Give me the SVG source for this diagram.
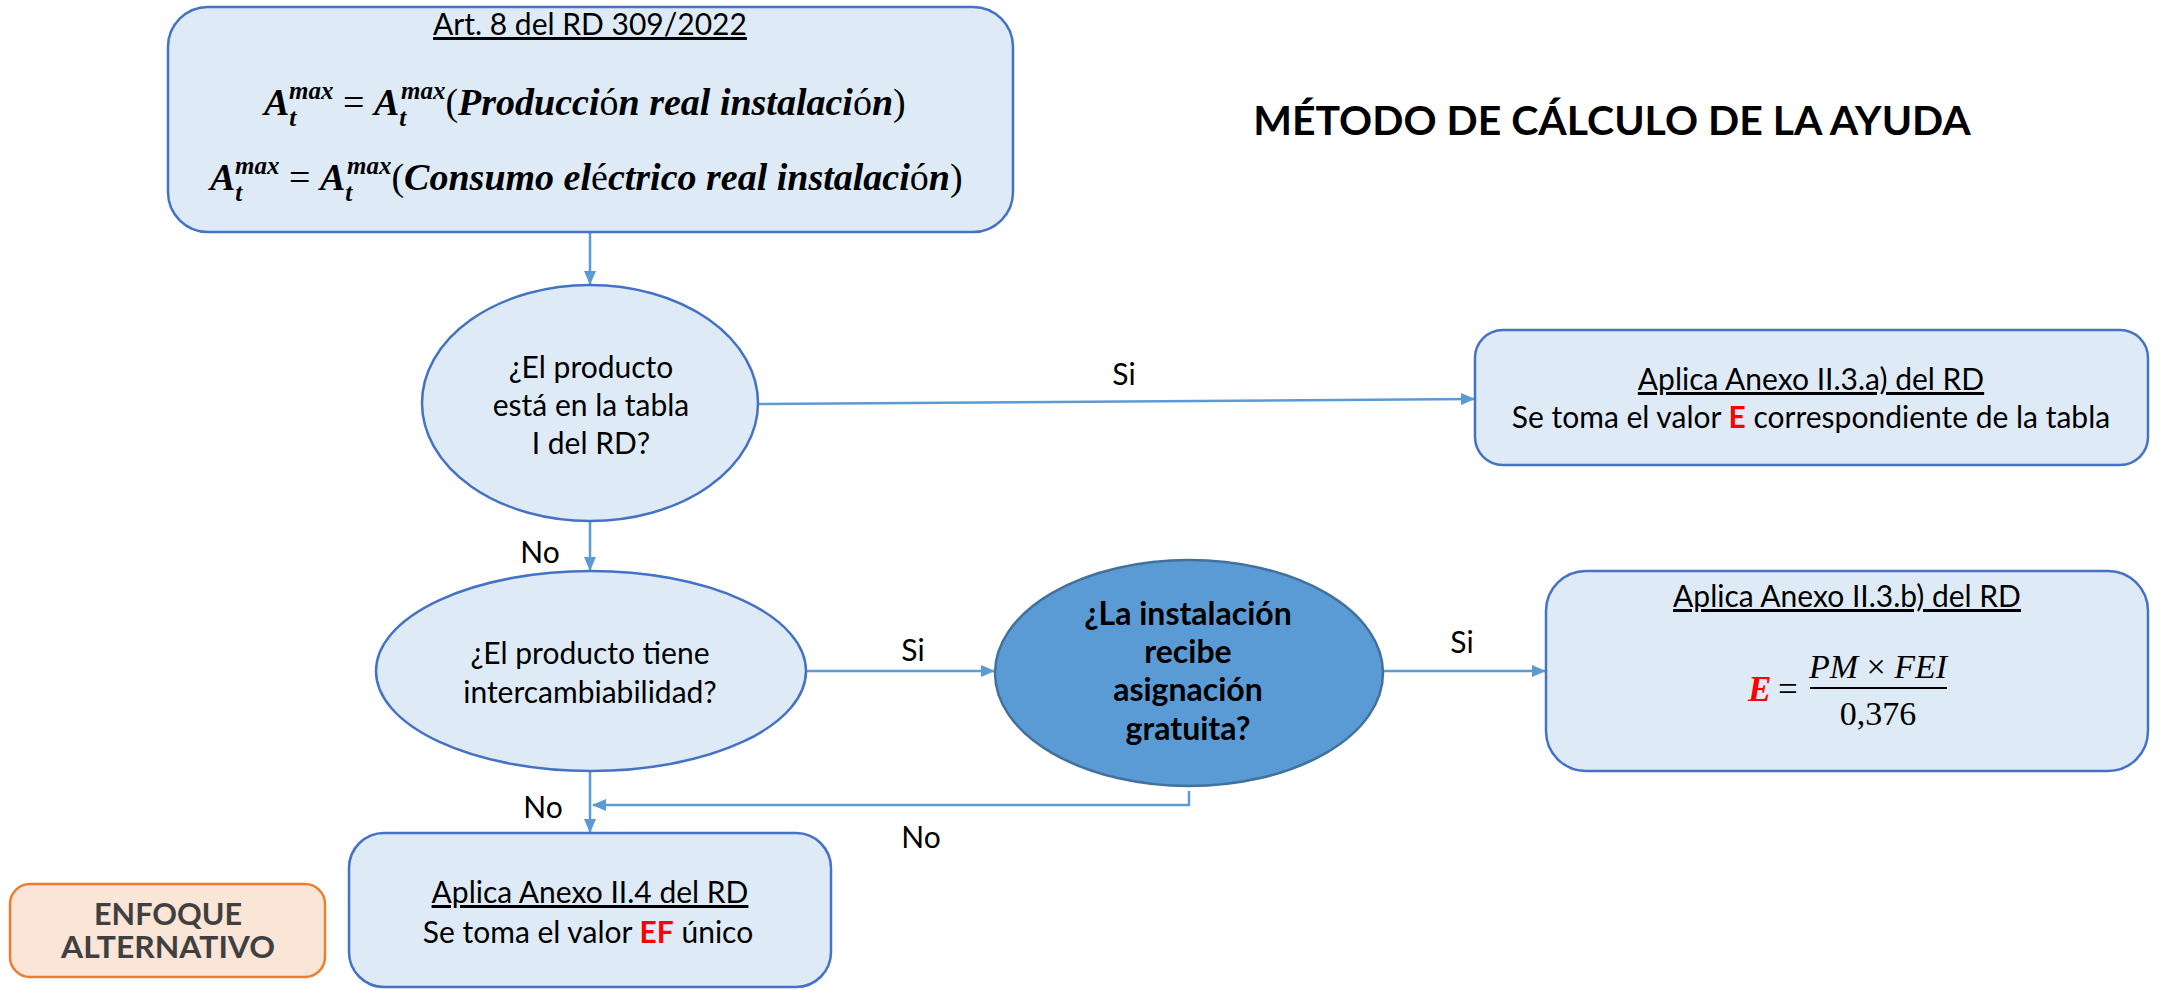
<svg xmlns="http://www.w3.org/2000/svg" width="2162" height="990" viewBox="0 0 2162 990">
<style>
.box{fill:#DEEBF7;stroke:#4472C4;stroke-width:2.5}
.dark{fill:#5B9BD5;stroke:#41719C;stroke-width:2.5}
.orange{fill:#FBE5D6;stroke:#ED7D31;stroke-width:2.5}
.t{font-family:Lato,"Liberation Sans",sans-serif;font-size:30px;fill:#000;text-anchor:middle}
.u{text-decoration:underline}
.b{font-weight:bold}
.q{font-weight:bold;font-size:32px}
.red{fill:#FF0000;font-weight:bold}
.m{font-family:"Liberation Serif",serif;font-size:38px;fill:#000}
.bi{font-weight:bold;font-style:italic}
.r{font-weight:normal;font-style:normal}
.s{font-size:25px}
.alt{font-weight:bold;font-size:30px;fill:#404040}
.conn{stroke:#5B9BD5;stroke-width:2.5;fill:none}
</style>
<defs>
<marker id="arr" markerWidth="14" markerHeight="12" refX="13" refY="6" orient="auto" markerUnits="userSpaceOnUse">
<path d="M0,0 L14,6 L0,12 Z" fill="#5B9BD5"/>
</marker>
</defs>
<rect width="2162" height="990" fill="#FFFFFF"/>

<g id="title">
<text x="1612" y="135" font-family="Lato,'Liberation Sans',sans-serif" font-size="41" font-weight="bold" text-anchor="middle" fill="#000">MÉTODO DE CÁLCULO DE LA AYUDA</text>
</g>

<g id="connectors">
<line class="conn" x1="590" y1="232" x2="590" y2="284" marker-end="url(#arr)"/>
<line class="conn" x1="758" y1="404" x2="1474" y2="399" marker-end="url(#arr)"/>
<line class="conn" x1="590" y1="522" x2="590" y2="570" marker-end="url(#arr)"/>
<line class="conn" x1="806" y1="671" x2="994" y2="671" marker-end="url(#arr)"/>
<line class="conn" x1="1383" y1="671" x2="1545" y2="671" marker-end="url(#arr)"/>
<line class="conn" x1="590" y1="771" x2="590" y2="832" marker-end="url(#arr)"/>
<polyline class="conn" points="1189,791 1189,805 593,805" marker-end="url(#arr)"/>
<text class="t" x="1124" y="385">Si</text>
<text class="t" x="540" y="563">No</text>
<text class="t" x="913" y="661">Si</text>
<text class="t" x="1462" y="653">Si</text>
<text class="t" x="543" y="818">No</text>
<text class="t" x="921" y="848">No</text>
</g>

<g id="art8">
<rect class="box" x="168" y="7" width="845" height="225" rx="40"/>
<text class="t u" x="590" y="35">Art. 8 del RD 309/2022</text>
<text class="m" x="264" y="115"><tspan class="bi">A</tspan><tspan class="bi s" dy="11">t</tspan><tspan class="bi s" x="289" dy="-27">max</tspan><tspan class="r" dy="16"> = </tspan><tspan class="bi">A</tspan><tspan class="bi s" dy="11">t</tspan><tspan class="bi s" x="401" dy="-27">max</tspan><tspan class="r" dy="16">(</tspan><tspan class="bi">Producci</tspan><tspan class="r">ó</tspan><tspan class="bi">n real instalaci</tspan><tspan class="r">ó</tspan><tspan class="bi">n</tspan><tspan class="r">)</tspan></text>
<text class="m" x="210" y="190"><tspan class="bi">A</tspan><tspan class="bi s" dy="11">t</tspan><tspan class="bi s" x="235" dy="-27">max</tspan><tspan class="r" dy="16"> = </tspan><tspan class="bi">A</tspan><tspan class="bi s" dy="11">t</tspan><tspan class="bi s" x="347" dy="-27">max</tspan><tspan class="r" dy="16">(</tspan><tspan class="bi">Consumo el</tspan><tspan class="r">é</tspan><tspan class="bi">ctrico real instalaci</tspan><tspan class="r">ó</tspan><tspan class="bi">n</tspan><tspan class="r">)</tspan></text>
</g>

<g id="q1">
<ellipse class="box" cx="590" cy="403" rx="168" ry="118"/>
<text class="t" x="591" y="378">¿El producto</text>
<text class="t" x="591" y="416">está en la tabla</text>
<text class="t" x="591" y="454">I del RD?</text>
</g>

<g id="anexo3a">
<rect class="box" x="1475" y="330" width="673" height="135" rx="28"/>
<text class="t u" x="1811" y="390">Aplica Anexo II.3.a) del RD</text>
<text class="t" x="1811" y="428">Se toma el valor <tspan class="red">E</tspan> correspondiente de la tabla</text>
</g>

<g id="q2">
<ellipse class="box" cx="591" cy="671" rx="215" ry="100"/>
<text class="t" x="590" y="664">¿El producto tiene</text>
<text class="t" x="590" y="703">intercambiabilidad?</text>
</g>

<g id="q3">
<ellipse class="dark" cx="1189" cy="673" rx="194" ry="113"/>
<text class="t q" x="1188" y="625">¿La instalación</text>
<text class="t q" x="1188" y="663">recibe</text>
<text class="t q" x="1188" y="701">asignación</text>
<text class="t q" x="1188" y="740">gratuita?</text>
</g>

<g id="anexo3b">
<rect class="box" x="1546" y="571" width="602" height="200" rx="40"/>
<text class="t u" x="1847" y="607">Aplica Anexo II.3.b) del RD</text>
<text x="1748" y="701" font-family="'Liberation Serif',serif" font-size="35" font-weight="bold" font-style="italic" fill="#FF0000">E</text>
<text x="1778" y="701" font-family="'Liberation Serif',serif" font-size="35" fill="#000">=</text>
<text x="1878" y="678" font-family="'Liberation Serif',serif" font-size="34" font-style="italic" text-anchor="middle" fill="#000">PM <tspan font-style="normal">×</tspan> FEI</text>
<line x1="1810" y1="688" x2="1947" y2="688" stroke="#000" stroke-width="2"/>
<text x="1878" y="725" font-family="'Liberation Serif',serif" font-size="34" text-anchor="middle" fill="#000">0,376</text>
</g>

<g id="anexo4">
<rect class="box" x="349" y="833" width="482" height="154" rx="35"/>
<text class="t u" x="590" y="903">Aplica Anexo II.4 del RD</text>
<text class="t" x="588" y="943">Se toma el valor <tspan class="red">EF</tspan> único</text>
</g>

<g id="enfoque">
<rect class="orange" x="10" y="884" width="315" height="93" rx="20"/>
<text class="t alt" x="168" y="925" textLength="148" lengthAdjust="spacingAndGlyphs">ENFOQUE</text>
<text class="t alt" x="168" y="958" textLength="214" lengthAdjust="spacingAndGlyphs">ALTERNATIVO</text>
</g>
</svg>
